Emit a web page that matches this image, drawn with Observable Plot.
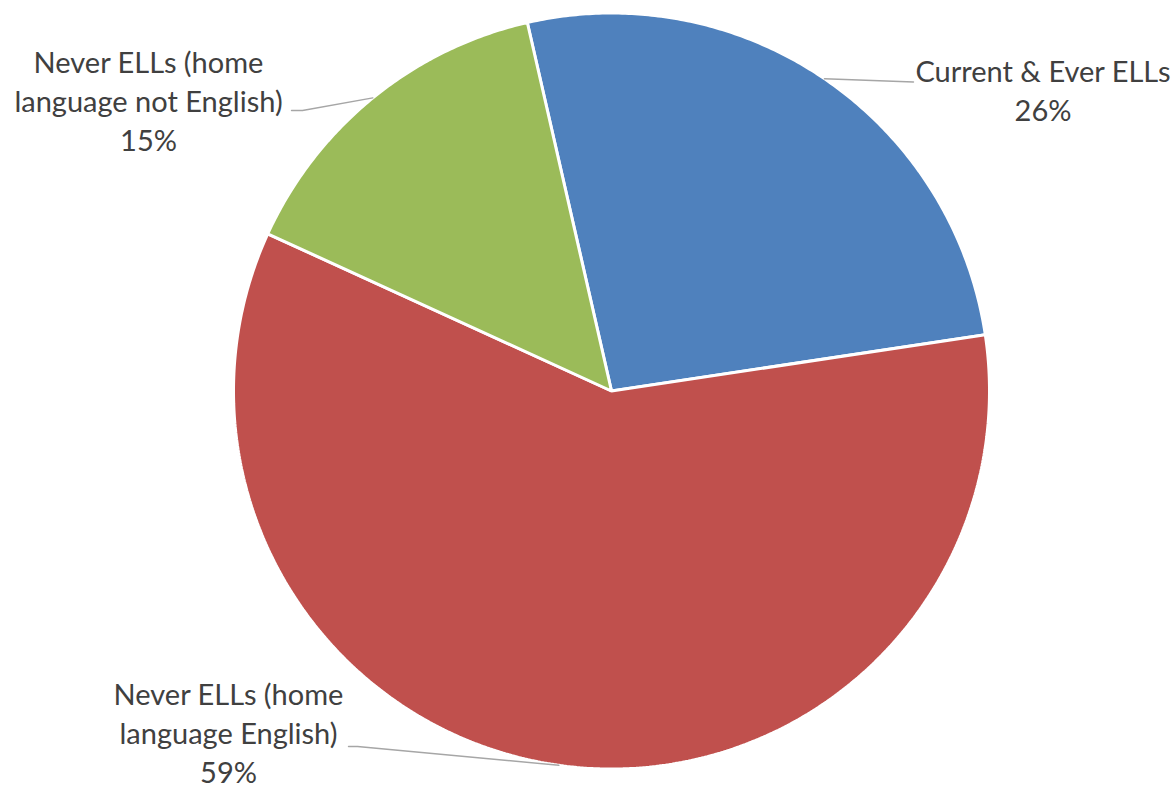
<!DOCTYPE html>
<html><head><meta charset="utf-8">
<script src="https://cdn.jsdelivr.net/npm/d3@7"></script>
<script src="https://cdn.jsdelivr.net/npm/@observablehq/plot@0.6"></script>
<style>html,body{margin:0;padding:0;background:#fff}svg{display:block}</style>
</head><body><div id="chart"></div>
<script>
// ---- data ----
const categories = ["Current & Ever ELLs", "Never ELLs (home language English)", "Never ELLs (home language not English)"];
const labelTexts = ["Current & Ever ELLs", "Never ELLs (home\nlanguage English)", "Never ELLs (home\nlanguage not English)"];
const values = [26.2, 59.2, 14.6];
const colors = ["#4F81BD", "#C0504D", "#9BBB59"];

// ---- layout (pixels) ----
const W = 1174, H = 788, CX = 611, CY = 390.5, R = 378;
const START = -12.87; // degrees clockwise from north
const FS = 29;
const labelLayout = [
  {x: 1042.5, y: 120, path: [[913, 81.5]]},
  {x: 228, y: 782, path: [[357, 746], [348, 746]]},
  {x: 148, y: 150, path: [[302, 110], [291, 110]]}
];
const px = (p) => (p - CX) / R;
const py = (p) => (CY - p) / R;

const total = d3.sum(values);
let acc = START;
const slices = values.map((v, i) => {
  const a0 = acc, a1 = acc + v / total * 360;
  acc = a1;
  return {name: categories[i], value: v, a0, a1, mid: (a0 + a1) / 2};
});

const piePts = [];
for (const s of slices) {
  piePts.push({name: s.name, x: 0, y: 0});
  const n = Math.max(2, Math.ceil((s.a1 - s.a0) / 0.5));
  for (let k = 0; k <= n; k++) {
    const a = (s.a0 + (s.a1 - s.a0) * k / n) * Math.PI / 180;
    piePts.push({name: s.name, x: Math.sin(a), y: Math.cos(a)});
  }
}

const leaderPts = [];
slices.forEach((s, i) => {
  const a = s.mid * Math.PI / 180;
  leaderPts.push({name: s.name, x: Math.sin(a), y: Math.cos(a)});
  for (const [qx, qy] of labelLayout[i].path) leaderPts.push({name: s.name, x: px(qx), y: py(qy)});
});

const labels = slices.map((s, i) => ({
  name: s.name,
  text: labelTexts[i] + "\n" + Math.round(s.value) + "%",
  x: px(labelLayout[i].x),
  y: py(labelLayout[i].y)
}));

const chart = Plot.plot({
  width: W, height: H,
  margin: 0,
  x: {domain: [px(0), px(W)], axis: null},
  y: {domain: [py(H), py(0)], axis: null},
  color: {domain: categories, range: colors},
  marks: [
    Plot.line(piePts, {x: "x", y: "y", z: "name", fill: "name", stroke: "white", strokeWidth: 3, strokeLinejoin: "miter", curve: "linear-closed"}),
    Plot.line(leaderPts, {x: "x", y: "y", z: "name", stroke: "#A6A6A6", strokeWidth: 1.4}),
    Plot.text(labels, {x: "x", y: "y", text: "text", textAnchor: "middle", lineAnchor: "bottom", lineHeight: 39 / FS, fontSize: FS, fontFamily: "Lato", fill: "#404040"})
  ]
});
document.getElementById("chart").appendChild(chart);
</script>
</body></html>
